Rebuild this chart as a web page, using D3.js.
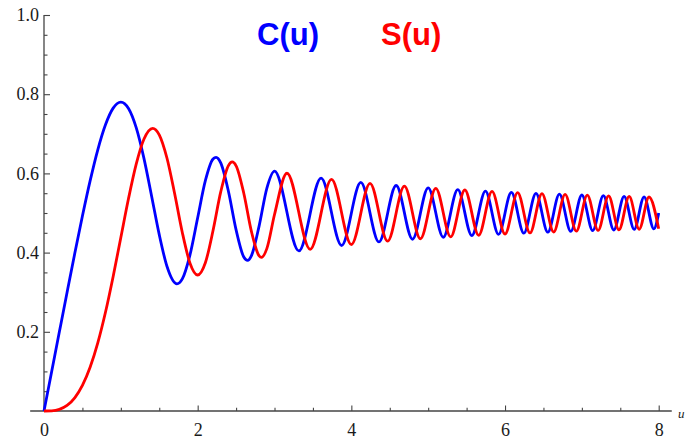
<!DOCTYPE html>
<html>
<head>
<meta charset="utf-8">
<script src="https://cdn.jsdelivr.net/npm/d3@7"></script>
<style>
  body { margin: 0; background: #fff; }
  svg { display: block; }
  .tick text { font-family: "Liberation Serif", "Times New Roman", serif; }
</style>
</head>
<body>
<main></main>
<script>
// Fresnel integrals C(u) and S(u)
const uC = [0, 0.1, 0.2, 0.3, 0.4, 0.5, 0.6, 0.7, 0.8, 0.9, 1.0, 1.1, 1.2, 1.3, 1.4, 1.5, 1.6, 1.73, 1.8, 1.9,
  2.0, 2.1, 2.2, 2.24, 2.3, 2.4, 2.5, 2.6, 2.65, 2.7, 2.8, 2.9, 3.0,
  3.317, 3.606, 3.873, 4.123, 4.359, 4.583, 4.796, 5.0, 5.196, 5.385, 5.568, 5.745, 5.916,
  6.083, 6.245, 6.403, 6.557, 6.708, 6.856, 7.0, 7.141, 7.28, 7.416, 7.55, 7.681, 7.81, 7.937, 8.0];
const cVals = [0, 0.0999, 0.1999, 0.2994, 0.3975, 0.4923, 0.5811, 0.6597, 0.7228, 0.7648, 0.7799, 0.7638, 0.7154, 0.6386, 0.5431, 0.4453, 0.3655, 0.3212, 0.3336, 0.3944,
  0.4882, 0.5816, 0.6363, 0.6405, 0.6266, 0.5550, 0.4574, 0.3889, 0.3804, 0.3925, 0.4675, 0.5624, 0.6058,
  0.4043, 0.5881, 0.4179, 0.5771, 0.4270, 0.5694, 0.4337, 0.5637, 0.4388, 0.5591, 0.4428, 0.5554, 0.4462,
  0.5523, 0.4490, 0.5497, 0.4515, 0.5475, 0.4536, 0.5455, 0.4554, 0.5437, 0.4571, 0.5422, 0.4586, 0.5408, 0.4599, 0.4998];

const uS = [0, 0.1, 0.2, 0.3, 0.4, 0.5, 0.6, 0.7, 0.8, 0.9, 1.0, 1.1, 1.2, 1.3, 1.414, 1.5, 1.6, 1.7, 1.8, 1.9,
  2.0, 2.1, 2.2, 2.3, 2.4, 2.45, 2.5, 2.6, 2.7, 2.8, 2.83, 2.9, 3.0,
  3.162, 3.464, 3.742, 4.0, 4.243, 4.472, 4.69, 4.899, 5.099, 5.292, 5.477, 5.657, 5.831, 6.0,
  6.164, 6.325, 6.481, 6.633, 6.782, 6.928, 7.071, 7.211, 7.348, 7.483, 7.616, 7.746, 7.874, 8.0];
const sVals = [0, 0.0005, 0.0042, 0.0141, 0.0334, 0.0647, 0.1105, 0.1721, 0.2493, 0.3398, 0.4383, 0.5365, 0.6234, 0.6863, 0.7139, 0.6975, 0.6389, 0.5492, 0.4509, 0.3733,
  0.3434, 0.3743, 0.4557, 0.5532, 0.6197, 0.6289, 0.6192, 0.5500, 0.4529, 0.3915, 0.3880, 0.4101, 0.4963,
  0.6004, 0.4083, 0.5849, 0.4205, 0.5749, 0.4289, 0.5678, 0.4350, 0.5624, 0.4398, 0.5581, 0.4437, 0.5546, 0.4470,
  0.5516, 0.4497, 0.5491, 0.4520, 0.5469, 0.4541, 0.5450, 0.4559, 0.5433, 0.4575, 0.5418, 0.4589, 0.5404, 0.4602];

const xMajor = [0, 2, 4, 6, 8];
const xMinor = [0.5, 1, 1.5, 2.5, 3, 3.5, 4.5, 5, 5.5, 6.5, 7, 7.5];
const yMajor = [0.2, 0.4, 0.6, 0.8, 1.0];
const yMinor = [0.05, 0.1, 0.15, 0.25, 0.3, 0.35, 0.45, 0.5, 0.55, 0.65, 0.7, 0.75, 0.85, 0.9, 0.95];

const series = [
  { name: 'C(u)', u: uC, v: cVals, color: '#0000ff' },
  { name: 'S(u)', u: uS, v: sVals, color: '#ff0000' }
];

const w = 686;
const h = 439;

var svg = d3.select('main')
  .append('svg')
  .attr('width', w)
  .attr('height', h);

const x = d3.scaleLinear().domain([0, 8]).range([44, 658.7]);
const y = d3.scaleLinear().domain([0, 1]).range([411, 15]);

const axisColor = '#444';
const labelFont = '"Liberation Serif", "Times New Roman", serif';

// Ejes: ticks hacia dentro
function styleAxis(g) {
  g.attr('font-family', labelFont).attr('font-size', 18);
  g.select('.domain').remove();
  g.selectAll('.tick line').attr('stroke', axisColor).attr('stroke-width', 1.1);
  g.selectAll('.tick text').attr('fill', '#1a1a1a');
}

svg.append('g')
  .attr('transform', `translate(0,${y(0)})`)
  .call(d3.axisBottom(x).tickValues(xMinor).tickSize(-3.2).tickFormat(''))
  .call(styleAxis);

svg.append('g')
  .attr('transform', `translate(0,${y(0)})`)
  .call(d3.axisBottom(x).tickValues(xMajor).tickSize(-5.5).tickPadding(12).tickFormat(d3.format('d')))
  .call(styleAxis);

svg.append('g')
  .attr('transform', `translate(${x(0)},0)`)
  .call(d3.axisLeft(y).tickValues(yMinor).tickSize(-3.5).tickFormat(''))
  .call(styleAxis);

svg.append('g')
  .attr('transform', `translate(${x(0)},0)`)
  .call(d3.axisLeft(y).tickValues(yMajor).tickSize(-6).tickPadding(5).tickFormat(d3.format('.1f')))
  .call(styleAxis);

// lineas de los ejes
svg.append('line')
  .attr('x1', x(-0.18)).attr('x2', x(8.17))
  .attr('y1', y(0)).attr('y2', y(0))
  .attr('stroke', axisColor).attr('stroke-width', 1.3);

svg.append('line')
  .attr('x1', x(0)).attr('x2', x(0))
  .attr('y1', y(0)).attr('y2', y(1))
  .attr('stroke', axisColor).attr('stroke-width', 1.3);

// etiqueta del eje, en el borde derecho
svg.append('text')
  .attr('x', 678)
  .attr('y', 418)
  .attr('fill', '#222')
  .attr('font-family', labelFont)
  .attr('font-style', 'italic')
  .attr('font-size', 13)
  .text('u');

// Curvas
const line = d3.line()
  .x((d) => x(d[0]))
  .y((d) => y(d[1]))
  .curve(d3.curveMonotoneX);

svg.selectAll('path.serie')
  .data(series)
  .enter()
  .append('path')
  .attr('class', 'serie')
  .attr('fill', 'none')
  .attr('stroke', (d) => d.color)
  .attr('stroke-width', 2.8)
  .attr('stroke-linejoin', 'round')
  .attr('d', (d) => line(d.u.map((u, i) => [u, d.v[i]])));

// Leyenda
svg.selectAll('text.legend')
  .data(series)
  .enter()
  .append('text')
  .attr('class', 'legend')
  .attr('x', (d, i) => 257 + i * 124)
  .attr('y', 45)
  .attr('fill', (d) => d.color)
  .style('font-family', '"Liberation Sans", Arial, sans-serif')
  .style('font-weight', 'bold')
  .style('font-size', '31px')
  .text((d) => d.name);
</script>
</body>
</html>
